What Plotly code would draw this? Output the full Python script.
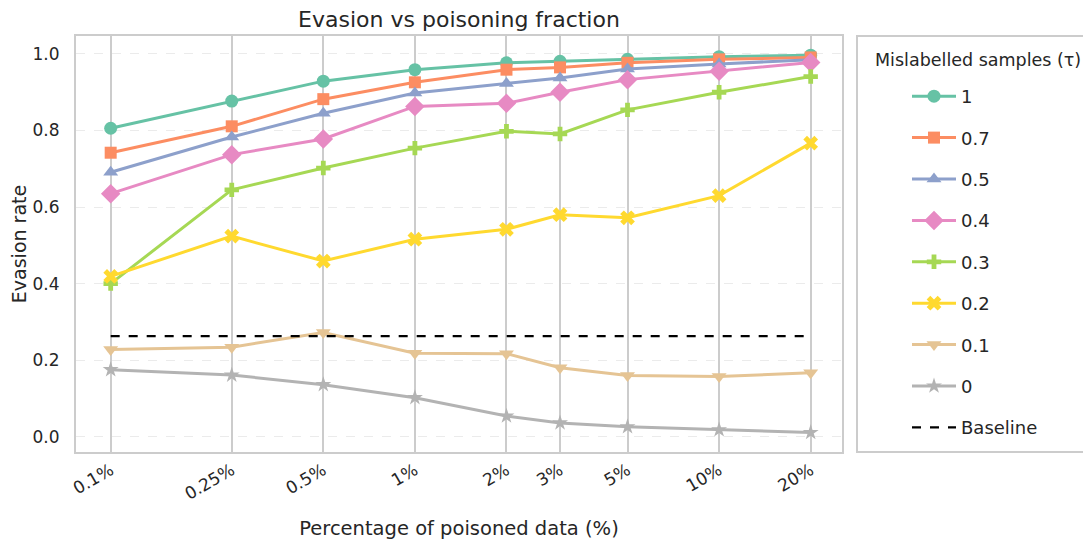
import plotly.graph_objects as go

# ---- data ----
x_pct = [0.1, 0.25, 0.5, 1, 2, 3, 5, 10, 20]
x_labels = ["0.1%", "0.25%", "0.5%", "1%", "2%", "3%", "5%", "10%", "20%"]

tau_names = ["1", "0.7", "0.5", "0.4", "0.3", "0.2", "0.1", "0"]
rate_1 = [0.806, 0.877, 0.929, 0.959, 0.977, 0.981, 0.986, 0.993, 0.997]
rate_07 = [0.742, 0.811, 0.882, 0.926, 0.959, 0.965, 0.977, 0.986, 0.991]
rate_05 = [0.691, 0.783, 0.845, 0.898, 0.923, 0.937, 0.961, 0.974, 0.985]
rate_04 = [0.635, 0.737, 0.778, 0.863, 0.871, 0.900, 0.933, 0.955, 0.978]
rate_03 = [0.400, 0.645, 0.702, 0.754, 0.798, 0.791, 0.854, 0.900, 0.941]
rate_02 = [0.419, 0.524, 0.459, 0.516, 0.542, 0.580, 0.572, 0.630, 0.767]
rate_01 = [0.228, 0.234, 0.272, 0.218, 0.217, 0.180, 0.160, 0.157, 0.167]
rate_0 = [0.175, 0.161, 0.136, 0.102, 0.054, 0.036, 0.026, 0.018, 0.011]
baseline = 0.263

series = [rate_1, rate_07, rate_05, rate_04, rate_03, rate_02, rate_01, rate_0]
colors = ["#66c2a5", "#fc8d62", "#8da0cb", "#e78ac3", "#a6d854", "#ffd92f", "#e5c494", "#b3b3b3"]
symbols = ["circle", "square", "triangle-up", "diamond", "cross", "x", "triangle-down", "star"]
sizes = [13, 12, 13, 15, 12, 13, 13, 12]

FONT = "DejaVu Sans"
W, H = 1083, 532
L, T, R, B = 68, 28, 249, 88
PW, PH = W - L - R, H - T - B


def px_x(fx):
    return (fx - L) / PW


def px_y(fy):
    return (H - B - fy) / PH


fig = go.Figure()
for i, (name, ys) in enumerate(zip(tau_names, series)):
    fig.add_trace(go.Scatter(
        x=x_pct, y=ys, name=name, mode="lines+markers",
        line=dict(color=colors[i], width=3),
        marker=dict(symbol=symbols[i], size=sizes[i], color=colors[i], line=dict(width=0)),
        legendgroup="g%d" % i,
    ))

fig.add_trace(go.Scatter(
    x=[x_pct[0], x_pct[-1]], y=[baseline, baseline], name="Baseline", mode="lines",
    line=dict(color="black", width=2.2, dash="dash"), legendgroup="base",
))

fig.update_layout(
    width=W, height=H,
    margin=dict(l=L, r=R, t=T, b=B, autoexpand=False),
    paper_bgcolor="white", plot_bgcolor="white",
    font=dict(family=FONT, color="#262626", size=17),
    title=dict(text="Evasion vs poisoning fraction", x=(L + (W - R)) / 2 / W, xanchor="center",
               y=1 - 11 / H, yanchor="middle", font=dict(size=22, color="#262626")),
    legend=dict(
        x=px_x(899), xanchor="left", y=px_y(70), yanchor="top",
        borderwidth=0, bgcolor="rgba(0,0,0,0)",
        traceorder="grouped", tracegroupgap=15,
        font=dict(size=18), itemwidth=44,
    ),
    showlegend=True,
    shapes=[dict(type="rect", xref="paper", yref="paper",
                 x0=px_x(849), x1=px_x(1081), y0=0, y1=1,
                 line=dict(color="#cccccc", width=2), fillcolor="rgba(0,0,0,0)", layer="below")],
    annotations=[dict(text="Mislabelled samples (τ)", xref="paper", yref="paper",
                      x=px_x(865), y=px_y(52), xanchor="left", yanchor="middle",
                      showarrow=False, font=dict(size=17.5, color="#262626"))],
)

fig.update_xaxes(
    type="log", range=[-1.114, 1.404], automargin=False,
    tickvals=x_pct, ticktext=x_labels, tickangle=-30,
    tickfont=dict(size=17),
    showgrid=True, gridcolor="#cccccc", gridwidth=1.5,
    showline=True, mirror=True, linecolor="#cccccc", linewidth=2,
    ticks="", zeroline=False,
    title=dict(text="Percentage of poisoned data (%)", font=dict(size=19.5), standoff=19),
)
fig.update_yaxes(
    range=[-0.04, 1.047], automargin=False,
    tickvals=[0.0, 0.2, 0.4, 0.6, 0.8, 1.0], tickformat=".1f",
    tickfont=dict(size=17),
    showgrid=True, gridcolor="#ebebeb", gridwidth=1.2, griddash="dash",
    showline=True, mirror=True, linecolor="#cccccc", linewidth=2,
    ticks="", zeroline=False, ticklabelstandoff=11,
    title=dict(text="Evasion rate", font=dict(size=19), standoff=5),
)

fig.write_html("out.html")
